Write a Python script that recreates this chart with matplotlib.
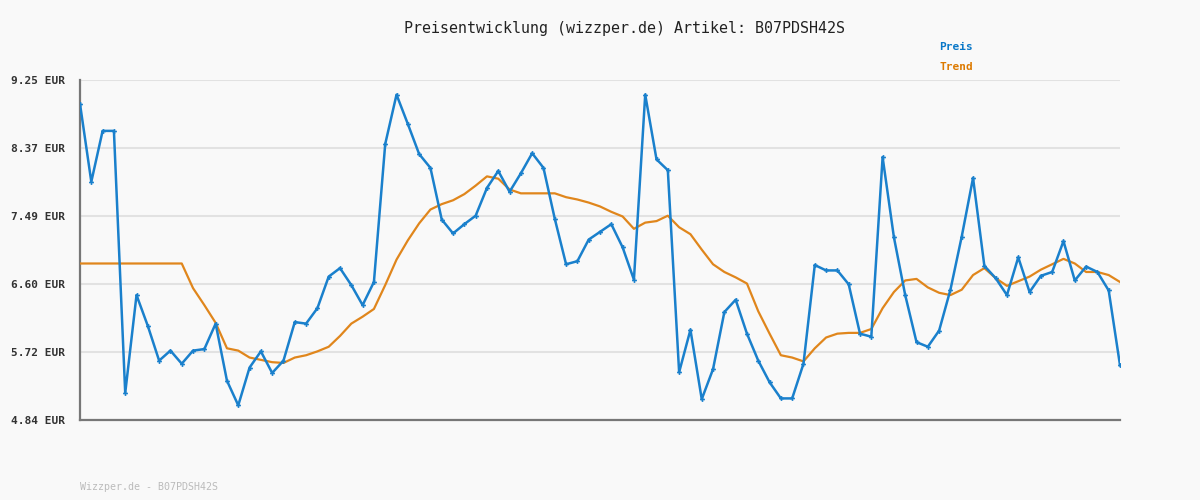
import matplotlib
matplotlib.use("Agg")
import matplotlib.pyplot as plt

# Preis-Verlauf, 93 Messpunkte
preis = [8.94, 7.93, 8.59, 8.59, 5.19, 6.46, 6.06, 5.61, 5.74, 5.57,
         5.74, 5.76, 6.09, 5.35, 5.03, 5.52, 5.73, 5.45, 5.61, 6.11,
         6.09, 6.29, 6.70, 6.81, 6.59, 6.33, 6.63, 8.42, 9.06, 8.68,
         8.29, 8.11, 7.44, 7.26, 7.38, 7.49, 7.85, 8.07, 7.80, 8.04,
         8.30, 8.11, 7.45, 6.86, 6.90, 7.18, 7.28, 7.38, 7.08, 6.66,
         9.06, 8.22, 8.08, 5.46, 6.01, 5.11, 5.50, 6.24, 6.40, 5.96,
         5.61, 5.33, 5.12, 5.12, 5.57, 6.85, 6.78, 6.78, 6.60, 5.96,
         5.92, 8.25, 7.21, 6.46, 5.85, 5.79, 6.00, 6.53, 7.22, 7.98,
         6.84, 6.68, 6.46, 6.95, 6.50, 6.71, 6.76, 7.16, 6.65, 6.83,
         6.76, 6.52, 5.55]

trend = [6.87, 6.87, 6.87, 6.87, 6.87, 6.87, 6.87, 6.87, 6.87, 6.87,
         6.55, 6.33, 6.10, 5.77, 5.74, 5.65, 5.62, 5.59, 5.58, 5.65,
         5.68, 5.73, 5.79, 5.93, 6.09, 6.18, 6.28, 6.59, 6.92, 7.17,
         7.39, 7.57, 7.64, 7.69, 7.77, 7.88, 8.00, 7.97, 7.83, 7.78,
         7.78, 7.78, 7.78, 7.73, 7.70, 7.66, 7.61, 7.54, 7.48, 7.32,
         7.40, 7.42, 7.49, 7.34, 7.25, 7.05, 6.86, 6.76, 6.69, 6.61,
         6.25, 5.96, 5.68, 5.65, 5.60, 5.77, 5.91, 5.96, 5.97, 5.97,
         6.02, 6.29, 6.50, 6.65, 6.67, 6.56, 6.49, 6.46, 6.53, 6.72,
         6.81, 6.68, 6.58, 6.64, 6.70, 6.79, 6.86, 6.93, 6.87, 6.76,
         6.76, 6.72, 6.63]

y_ticks = [4.84, 5.72, 6.60, 7.49, 8.37, 9.25]
y_labels = ["4.84 EUR", "5.72 EUR", "6.60 EUR", "7.49 EUR", "8.37 EUR", "9.25 EUR"]

bg = "#f9f9f9"
blau = "#1a80cc"
orange = "#e0861c"
mono = ["DejaVu Sans Mono"]

fig = plt.figure(figsize=(12, 5), dpi=100, facecolor=bg)
ax = fig.add_axes([80 / 1200, 80 / 500, 1040 / 1200, 340 / 500], facecolor=bg)

x = list(range(len(preis)))
ax.plot(x, trend, color=orange, lw=1.6, zorder=3)
ax.plot(x, preis, color=blau, lw=1.8, marker="P", markersize=3.5,
        markeredgewidth=0, zorder=4)

ax.set_xlim(0, len(preis) - 1)
ax.set_ylim(4.84, 9.25)
ax.set_yticks(y_ticks)
ax.set_yticklabels(y_labels, family=mono, fontsize=8, fontweight="bold", color="#333333")
ax.set_xticks([])
ax.tick_params(axis="y", length=0, pad=11)
ax.grid(axis="y", color="#e2e2e2", lw=1.5)
ax.set_axisbelow(True)

for s in ["top", "right"]:
    ax.spines[s].set_visible(False)
for s in ["left", "bottom"]:
    ax.spines[s].set_color("#777777")
    ax.spines[s].set_linewidth(1.6)

fig.text(624 / 1200, 1 - 29 / 500, "Preisentwicklung (wizzper.de) Artikel: B07PDSH42S",
         ha="center", va="center", family=mono, fontsize=10.8, color="#222222")
fig.text(956 / 1200, 1 - 47 / 500, "Preis", ha="center", va="center",
         family=mono, fontsize=8, fontweight="bold", color="#0a78c8")
fig.text(956 / 1200, 1 - 67 / 500, "Trend", ha="center", va="center",
         family=mono, fontsize=8, fontweight="bold", color="#dd7a00")
fig.text(80 / 1200, 1 - 487 / 500, "Wizzper.de - B07PDSH42S", ha="left", va="center",
         family=mono, fontsize=7.2, color="#bbbbbb")

fig.savefig("out.png", dpi=100, facecolor=bg)
